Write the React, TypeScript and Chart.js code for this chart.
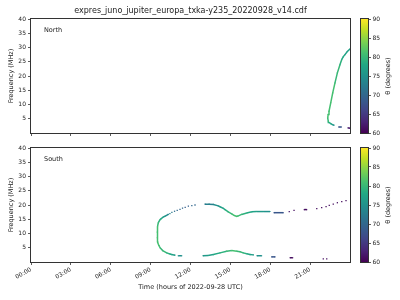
import React, { useEffect, useRef } from 'react';
import { Chart, registerables } from 'chart.js';

Chart.register(...registerables);

// ---------- data ----------
const titleText = 'expres_juno_jupiter_europa_txka-y235_20220928_v14.cdf';
const panelNames = ['North', 'South'];
const xAxisTitle = 'Time (hours of 2022-09-28 UTC)';
const yAxisTitle = 'Frequency (MHz)';
const cbTitle = 'θ (degrees)';

const xTickValues = [0, 3, 6, 9, 12, 15, 18, 21];
const xTickLabels = ['00:00', '03:00', '06:00', '09:00', '12:00', '15:00', '18:00', '21:00'];
const yTickValues = [5, 10, 15, 20, 25, 30, 35, 40];
const cbTickValues = [60, 65, 70, 75, 80, 85, 90];
const thetaRange = [60, 90];
const timeRange = [0, 24];
const freqRange = [0, 40];

// North: connected track (null = gap)
const northTime = [24.0, 23.85, null, 23.35, 23.15, null, 22.8, 22.68, 22.55, 22.42, 22.37, 22.32, 22.36, 22.42, 22.55, 22.7, 22.87, 23.05, 23.25, 23.38, 23.5, 23.62, 23.8, 24.0];
const northFreq = [1.7, 1.8, null, 2.1, 2.1, null, 2.7, 2.95, 3.3, 3.7, 4.1, 5.3, 6.5, 7.6, 10.6, 14.1, 17.6, 21.1, 24.0, 25.8, 26.8, 27.5, 28.6, 29.5];
const northTheta = [62, 62, null, 68, 68, null, 75, 77, 78, 79, 80, 81, 81, 81, 81, 81, 80, 80, 79, 78, 78, 77, 77, 77];

// South: connected track pieces (null = gap)
const southLineTime = [
  18.98, 18.28, null,
  17.98, 17.5, 17.0, 16.61, 16.23, 15.85, 15.6, 15.48, 15.3, 15.1, 14.84, 14.6, 14.47, 14.22, 14.09, 13.72, 13.4, 13.09, null,
  10.33, 10.1, 9.95, 9.8, 9.71, 9.58, 9.52, 9.5, 9.5, 9.55, 9.62, 9.71, 9.91, 10.21, 10.45, 10.59, 10.83, null,
  11.08, 11.34, null,
  12.94, 13.32, 13.72, 14.22, 14.72, 15.1, 15.48, 15.73, 15.97, 16.23, 16.48, 16.73, null,
  17.0, 17.35, null,
  18.11, 18.36, null,
  19.49, 19.69, null,
  20.56, 20.74,
];
const southLineFreq = [
  17.3, 17.3, null,
  17.7, 17.7, 17.7, 17.6, 17.2, 16.7, 16.2, 16.0, 16.3, 16.9, 17.6, 18.4, 18.8, 19.4, 19.7, 20.2, 20.3, 20.3, null,
  16.7, 16.1, 15.8, 15.2, 14.9, 13.8, 12.5, 10.5, 8.5, 7.0, 5.8, 5.0, 4.0, 3.2, 2.8, 2.6, 2.4, null,
  2.2, 2.2, null,
  2.2, 2.3, 2.6, 3.2, 3.8, 4.0, 3.8, 3.6, 3.2, 2.9, 2.6, 2.5, null,
  2.2, 2.2, null,
  1.8, 1.8, null,
  1.5, 1.5, null,
  18.4, 18.4,
];
const southLineTheta = [
  68, 68, null,
  75, 76, 77, 78, 79, 80, 81, 81, 81, 80, 79, 78, 77, 76, 75, 73, 73, 72, null,
  74, 76, 77, 78, 79, 80, 81, 81, 81, 81, 81, 80, 80, 79, 78, 77, 76, null,
  75, 75, null,
  76, 77, 78, 79, 80, 81, 80, 80, 79, 78, 77, 76, null,
  75, 75, null,
  68, 68, null,
  61, 61, null,
  61, 61,
];

// South: isolated dots
const southDotTime = [12.34, 12.1, 11.84, 11.6, 11.4, 11.21, 11.0, 10.8, 10.6, 10.45, 19.43, 19.79, 21.5, 21.87, 22.2, 22.44, 22.74, 23.05, 23.38, 23.7, 21.99, 22.25];
const southDotFreq = [20.0, 19.8, 19.6, 19.2, 18.9, 18.5, 18.1, 17.8, 17.4, 17.0, 17.7, 18.1, 18.7, 19.1, 19.4, 19.9, 20.3, 20.8, 21.2, 21.5, 1.1, 1.1];
const southDotTheta = [70, 70, 69, 69, 70, 70, 70, 71, 72, 73, 62, 61, 61, 61, 61, 61, 61, 61, 61, 61, 61, 61];

// ---------- colour map ----------
const VIRIDIS = ['#440154', '#482475', '#414487', '#355f8d', '#2a788e', '#21918c', '#22a884', '#44bf70', '#7ad151', '#bddf26', '#fde725'];

function hexToRgb(h: string) {
  return [parseInt(h.slice(1, 3), 16), parseInt(h.slice(3, 5), 16), parseInt(h.slice(5, 7), 16)];
}
function viridis(theta: number | null) {
  if (theta == null) return 'rgba(0,0,0,0)';
  let u = (theta - thetaRange[0]) / (thetaRange[1] - thetaRange[0]);
  u = Math.max(0, Math.min(1, u));
  const p = u * (VIRIDIS.length - 1);
  const i = Math.min(VIRIDIS.length - 2, Math.floor(p));
  const f = p - i;
  const a = hexToRgb(VIRIDIS[i]);
  const b = hexToRgb(VIRIDIS[i + 1]);
  const c = a.map((v, k) => Math.round(v + (b[k] - v) * f));
  return `rgb(${c[0]},${c[1]},${c[2]})`;
}

// ---------- chart helpers ----------
const FONT = 'DejaVu Sans';
const TEXT = '#222';
const AXIS = '#333';

const framePlugin = {
  id: 'frame',
  afterDraw(chart: any) {
    const { ctx, chartArea: a } = chart;
    ctx.save();
    ctx.strokeStyle = AXIS;
    ctx.lineWidth = 1;
    const l = Math.round(a.left) - 0.5;
    const t = Math.round(a.top) - 0.5;
    const r = Math.round(a.right) + 0.5;
    const b = Math.round(a.bottom) + 0.5;
    ctx.strokeRect(l, t, r - l, b - t);
    ctx.restore();
  },
};

function toPoints(ts: (number | null)[], fs: (number | null)[]) {
  return ts.map((t, i) => ({ x: t as any, y: fs[i] as any }));
}

function lineDataset(ts: (number | null)[], fs: (number | null)[], th: (number | null)[]) {
  return {
    data: toPoints(ts, fs),
    showLine: true,
    spanGaps: false,
    borderWidth: 1.5,
    pointRadius: 0.8,
    pointStyle: 'rect',
    pointBorderWidth: 0,
    pointBackgroundColor: (c: any) => viridis(th[c.dataIndex]),
    borderColor: viridis(th[0]),
    segment: {
      borderColor: (c: any) => viridis(th[c.p0DataIndex]),
    },
  };
}

function dotDataset(ts: number[], fs: number[], th: number[]) {
  return {
    data: toPoints(ts, fs),
    showLine: false,
    pointRadius: 0.9,
    pointStyle: 'rect',
    pointBorderWidth: 0,
    pointBackgroundColor: (c: any) => viridis(th[c.dataIndex]),
  };
}

function makeScatter(canvas: HTMLCanvasElement, datasets: any[], opts: { label: string; bottomAxis: boolean; title: boolean; top: number; bottomH: number }) {
  const textPlugin = {
    id: 'texts',
    afterDraw(chart: any) {
      const { ctx, chartArea: a } = chart;
      ctx.save();
      ctx.fillStyle = TEXT;
      ctx.textBaseline = 'middle';
      ctx.textAlign = 'left';
      ctx.font = `6.5px "${FONT}"`;
      ctx.fillText(opts.label, a.left + 13, a.top + 11);
      if (opts.title) {
        ctx.textAlign = 'center';
        ctx.font = `8px "${FONT}"`;
        ctx.fillText(titleText, (a.left + a.right) / 2, 11);
      }
      ctx.restore();
    },
  };
  return new Chart(canvas, {
    type: 'scatter',
    data: { datasets },
    plugins: [framePlugin, textPlugin],
    options: {
      animation: false,
      responsive: false,
      devicePixelRatio: 1,
      events: [],
      layout: { padding: { left: 0, right: 50, top: opts.top, bottom: 0 } },
      plugins: { legend: { display: false }, tooltip: { enabled: false } },
      scales: {
        x: {
          type: 'linear',
          min: timeRange[0],
          max: timeRange[1],
          afterBuildTicks: (s: any) => {
            s.ticks = xTickValues.map((v) => ({ value: v }));
          },
          afterFit: (s: any) => {
            s.height = opts.bottomH;
          },
          border: { display: false },
          grid: { display: true, drawOnChartArea: false, drawTicks: true, tickLength: 3, color: AXIS, lineWidth: 0.8 },
          ticks: {
            display: opts.bottomAxis,
            autoSkip: false,
            minRotation: 30,
            maxRotation: 30,
            padding: 1,
            color: TEXT,
            font: { family: FONT, size: 6 },
            callback: (v: any) => xTickLabels[xTickValues.indexOf(Number(v))] ?? '',
          },
          title: {
            display: opts.bottomAxis,
            text: xAxisTitle,
            color: TEXT,
            font: { family: FONT, size: 6.5 },
            padding: { top: 0, bottom: 9 },
          },
        },
        y: {
          type: 'linear',
          min: freqRange[0],
          max: freqRange[1],
          afterBuildTicks: (s: any) => {
            s.ticks = yTickValues.map((v) => ({ value: v }));
          },
          afterFit: (s: any) => {
            s.width = 31;
          },
          border: { display: false },
          grid: { display: true, drawOnChartArea: false, drawTicks: true, tickLength: 3, color: AXIS, lineWidth: 0.8 },
          ticks: {
            padding: 2,
            color: TEXT,
            font: { family: FONT, size: 6 },
          },
          title: {
            display: true,
            text: yAxisTitle,
            color: TEXT,
            font: { family: FONT, size: 6.5 },
            padding: { top: 7, bottom: 0 },
          },
        },
      },
    } as any,
  });
}

function makeColorbar(canvas: HTMLCanvasElement, top: number, bottom: number) {
  const cbPlugin = {
    id: 'cbtext',
    afterDraw(chart: any) {
      const { ctx, chartArea: a } = chart;
      ctx.save();
      ctx.strokeStyle = AXIS;
      ctx.lineWidth = 1;
      const l = Math.round(a.left) - 0.5;
      const t = Math.round(a.top) - 0.5;
      const r = Math.round(a.right) + 0.5;
      const b = Math.round(a.bottom) + 0.5;
      ctx.strokeRect(l, t, r - l, b - t);
      ctx.fillStyle = TEXT;
      ctx.font = `6.5px "${FONT}"`;
      ctx.textAlign = 'center';
      ctx.textBaseline = 'middle';
      ctx.translate(33, (a.top + a.bottom) / 2);
      ctx.rotate(-Math.PI / 2);
      ctx.fillText(cbTitle, 0, 0);
      ctx.restore();
    },
  };
  return new Chart(canvas, {
    type: 'bar',
    data: {
      labels: [''],
      datasets: [
        {
          data: [[thetaRange[0], thetaRange[1]]],
          barPercentage: 1,
          categoryPercentage: 1,
          borderWidth: 0,
          backgroundColor: (c: any) => {
            const a = c.chart.chartArea;
            if (!a) return 'transparent';
            const g = c.chart.ctx.createLinearGradient(0, a.bottom, 0, a.top);
            VIRIDIS.forEach((col, i) => g.addColorStop(i / (VIRIDIS.length - 1), col));
            return g;
          },
        } as any,
      ],
    },
    plugins: [cbPlugin],
    options: {
      animation: false,
      responsive: false,
      devicePixelRatio: 1,
      events: [],
      layout: { padding: { left: 6, right: 0, top, bottom } },
      plugins: { legend: { display: false }, tooltip: { enabled: false } },
      scales: {
        x: { display: false },
        y: {
          position: 'right',
          min: thetaRange[0],
          max: thetaRange[1],
          afterBuildTicks: (s: any) => {
            s.ticks = cbTickValues.map((v) => ({ value: v }));
          },
          afterFit: (s: any) => {
            s.width = 32;
          },
          border: { display: false },
          grid: { display: true, drawOnChartArea: false, drawTicks: true, tickLength: 3, color: AXIS, lineWidth: 0.8 },
          ticks: { padding: 1.5, color: TEXT, font: { family: FONT, size: 6 } },
        },
      },
    } as any,
  });
}

export default function App() {
  const topRef = useRef<HTMLCanvasElement>(null);
  const botRef = useRef<HTMLCanvasElement>(null);
  const cbTopRef = useRef<HTMLCanvasElement>(null);
  const cbBotRef = useRef<HTMLCanvasElement>(null);

  useEffect(() => {
    const charts: Chart[] = [];
    charts.push(
      makeScatter(topRef.current!, [lineDataset(northTime, northFreq, northTheta)], {
        label: panelNames[0],
        bottomAxis: false,
        title: true,
        top: 19,
        bottomH: 7,
      })
    );
    charts.push(
      makeScatter(
        botRef.current!,
        [lineDataset(southLineTime, southLineFreq, southLineTheta), dotDataset(southDotTime, southDotFreq, southDotTheta)],
        { label: panelNames[1], bottomAxis: true, title: false, top: 8, bottomH: 38 }
      )
    );
    charts.push(makeColorbar(cbTopRef.current!, 19, 7));
    charts.push(makeColorbar(cbBotRef.current!, 8, 38));
    return () => charts.forEach((c) => c.destroy());
  }, []);

  const abs = (left: number, top: number, w: number, h: number): React.CSSProperties => ({
    position: 'absolute',
    left,
    top,
    width: w,
    height: h,
  });

  return (
    <div style={{ position: 'fixed', left: 0, top: 0, width: 400, height: 300, background: '#fff', overflow: 'hidden' }}>
      <canvas ref={topRef} width={400} height={140} style={abs(0, 0, 400, 140)} />
      <canvas ref={botRef} width={400} height={160} style={abs(0, 140, 400, 160)} />
      <canvas ref={cbTopRef} width={45} height={140} style={abs(355, 0, 45, 140)} />
      <canvas ref={cbBotRef} width={45} height={160} style={abs(355, 140, 45, 160)} />
    </div>
  );
}
